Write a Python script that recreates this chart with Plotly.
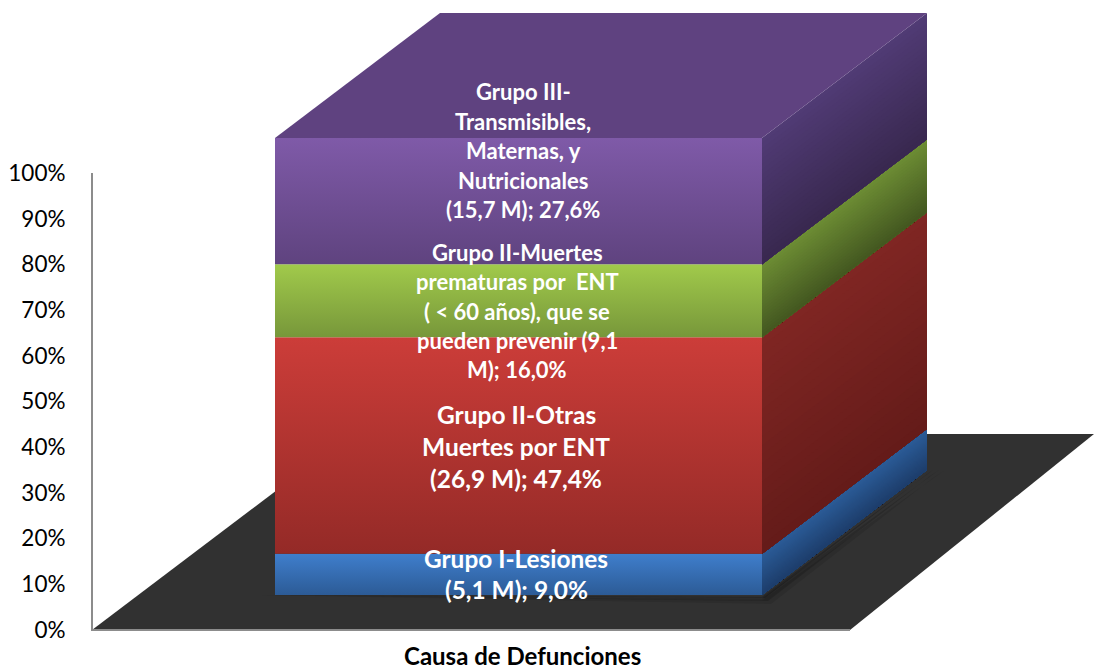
import plotly.graph_objects as go

# ---- data ----
segments = ["Grupo I-Lesiones", "Grupo II-Otras", "Grupo II-Muertes", "Grupo III"]
values = [9.0, 47.4, 16.0, 27.6]
tick_values = [0, 10, 20, 30, 40, 50, 60, 70, 80, 90, 100]
tick_labels = ["0%", "10%", "20%", "30%", "40%", "50%", "60%", "70%", "80%", "90%", "100%"]
label_blue = ["Grupo I-Lesiones", "(5,1 M); 9,0%"]
label_red = ["Grupo II-Otras", "Muertes por ENT", "(26,9 M); 47,4%"]
label_green = ["Grupo II-Muertes", "prematuras por  ENT", "( < 60 años), que se", "pueden prevenir (9,1", "M); 16,0%"]
label_purple = ["Grupo III-", "Transmisibles,", "Maternas, y", "Nutricionales", "(15,7 M); 27,6%"]
axis_title = "Causa de Defunciones"

# ---- styling / geometry (x in axis units, y in % units) ----
W, H = 1094, 670
ORIGIN_X, ORIGIN_Y = 92, 630
PAD = 4                  # room left of the axis line so it is not clipped
PX = 4.57                # pixels per percent
BAR_L, BAR_R = 183, 670
BASE = 7.66
DX, DY = 165, 125 / PX
front_cols = [("#3f7ecc", "#2c5b96"), ("#cc3d39", "#942a27"), ("#a1ca4b", "#77973a"), ("#7f5aa8", "#5f437f")]
side_cols = [("#2b5c98", "#1d3d6b"), ("#802623", "#641b19"), ("#6d8d34", "#435720"), ("#513b75", "#38284f")]
top_col = "#5f4280"
FLOOR = "#313131"
AXIS = "#8c8c8c"
FONT = "Lato"


def lerp(c1, c2, t):
    a = [int(c1[i:i + 2], 16) for i in (1, 3, 5)]
    b = [int(c2[i:i + 2], 16) for i in (1, 3, 5)]
    return "rgb(%d,%d,%d)" % tuple(round(p + (q - p) * t) for p, q in zip(a, b))


fig = go.Figure()


def poly(xs, ys, color):
    fig.add_trace(go.Scatter(x=xs + xs[:1], y=ys + ys[:1], mode="lines", fill="toself", fillcolor=color,
                             line=dict(width=0), hoverinfo="skip", showlegend=False))


# floor
poly([0, 758, 1002, 259], [0, 0, 196 / PX, 196 / PX], FLOOR)

# soft shadow of the block on the floor
for off, alpha in ((9, 0.10), (6, 0.16), (3, 0.22)):
    poly([BAR_L - off * 2, BAR_R, BAR_R + DX + off * 2, BAR_R + DX + off * 0.5, BAR_R + off],
         [BASE, BASE - off / PX * 0.6, BASE + DY, BASE + DY - off / PX, BASE - off / PX],
         "rgba(0,0,0,%.2f)" % alpha)

# stacked block
bottom = BASE
NSTRIP = 24
for val, fc, sc in zip(values, front_cols, side_cols):
    top = bottom + val
    # side face: nested bands running along the depth direction, painted top colour first
    for i in range(NSTRIP):
        y1 = top - val * i / NSTRIP
        poly([BAR_R, BAR_R + DX, BAR_R + DX, BAR_R],
             [bottom, bottom + DY, y1 + DY, y1], lerp(sc[0], sc[1], (i + 0.5) / NSTRIP))
    # front face
    fig.add_trace(go.Scatter(
        x=[BAR_L, BAR_R, BAR_R, BAR_L, BAR_L], y=[bottom, bottom, top, top, bottom],
        mode="lines", fill="toself", line=dict(width=0), hoverinfo="skip", showlegend=False,
        fillgradient=dict(type="vertical", colorscale=[[0, fc[1]], [1, fc[0]]])))
    bottom = top

# top face
poly([BAR_L, BAR_R, BAR_R + DX, BAR_L + DX], [bottom, bottom, bottom + DY, bottom + DY], top_col)

# y-axis line and baseline
fig.add_trace(go.Scatter(x=[0, 0, 758], y=[100, 0, 0], mode="lines", line=dict(color=AXIS, width=2),
                         hoverinfo="skip", showlegend=False))


def to_y(px):
    return (ORIGIN_Y - px) / PX


def labels(lines, first_px, step_px, size, cx):
    for i, t in enumerate(lines):
        fig.add_annotation(x=cx, y=to_y(first_px + i * step_px), text="<b>%s</b>" % t, showarrow=False,
                           xanchor="center", yanchor="middle",
                           font=dict(family=FONT, size=size, color="white"))


labels(label_purple, 91.5, 29.5, 22, 431)
labels(label_green, 252.5, 29.3, 22, 425)
labels(label_red, 414.5, 32, 24.5, 424)
labels(label_blue, 558.5, 31, 24.4, 424)

fig.add_annotation(x=430, y=to_y(655), text="<b>%s</b>" % axis_title, showarrow=False,
                   xanchor="center", yanchor="middle", font=dict(family=FONT, size=24, color="black"))

fig.update_layout(
    width=W, height=H, margin=dict(l=ORIGIN_X - PAD, r=0, t=0, b=0), paper_bgcolor="white", plot_bgcolor="white",
    showlegend=False,
    xaxis=dict(range=[-PAD, W - ORIGIN_X], visible=False, fixedrange=True),
    yaxis=dict(range=[to_y(H), to_y(0)], tickvals=tick_values, ticktext=tick_labels, showgrid=False, zeroline=False,
               showline=False, ticks="outside", ticklen=17, tickcolor="rgba(0,0,0,0)",
               tickfont=dict(family=FONT, size=22.5, color="#000000"), fixedrange=True),
)

fig.write_html("out.html", config=dict(displayModeBar=False, responsive=False),
               post_script="document.body.style.margin='0';")
